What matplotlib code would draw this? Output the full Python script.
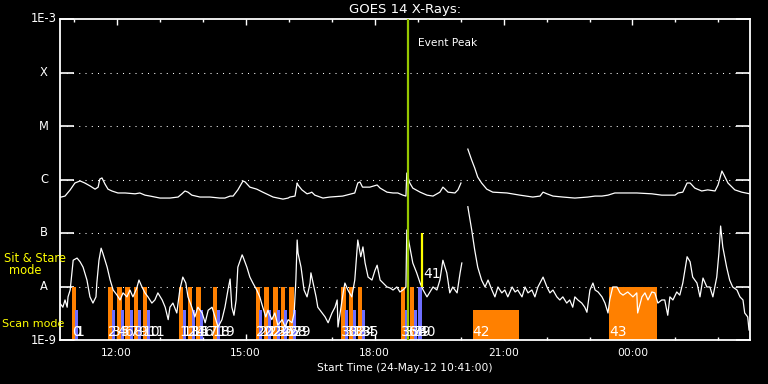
import matplotlib
matplotlib.use("Agg")
import matplotlib.pyplot as plt
from matplotlib.ticker import FixedLocator, MultipleLocator, NullLocator, NullFormatter
from matplotlib.transforms import blended_transform_factory

NAN = float("nan")

# ---- data (time in hours of 24-May-12, flux in W/m^2) ----
long_channel = [
    (10.69, 4.7e-7), (10.71, 4.7e-7), (10.80, 4.9e-7), (10.92, 6.4e-7), (11.03, 8.6e-7), (11.15, 9.4e-7),
    (11.26, 8.6e-7), (11.38, 7.6e-7), (11.50, 6.6e-7), (11.57, 7.2e-7), (11.61, 1.02e-6), (11.66, 1.07e-6),
    (11.73, 8.2e-7), (11.80, 6.6e-7), (11.89, 6.1e-7), (12.03, 5.6e-7), (12.20, 5.6e-7), (12.43, 5.4e-7),
    (12.54, 5.6e-7), (12.66, 5.1e-7), (12.78, 4.9e-7), (13.01, 4.5e-7), (13.24, 4.5e-7), (13.43, 4.7e-7),
    (13.52, 5.4e-7), (13.59, 6.1e-7), (13.66, 5.8e-7), (13.75, 5.1e-7), (13.94, 4.7e-7), (14.17, 4.7e-7),
    (14.40, 4.5e-7), (14.52, 4.5e-7), (14.64, 4.9e-7), (14.71, 4.9e-7), (14.82, 6.4e-7), (14.94, 9.4e-7),
    (14.99, 9.0e-7), (15.10, 7.2e-7), (15.26, 6.6e-7), (15.40, 5.8e-7), (15.64, 4.7e-7), (15.87, 4.3e-7),
    (15.99, 4.5e-7), (16.03, 4.7e-7), (16.15, 4.9e-7), (16.20, 8.6e-7), (16.22, 7.9e-7), (16.31, 6.4e-7),
    (16.43, 5.4e-7), (16.50, 5.6e-7), (16.54, 5.8e-7), (16.61, 5.1e-7), (16.80, 4.5e-7), (16.96, 4.7e-7),
    (17.26, 4.9e-7), (17.54, 5.6e-7), (17.61, 8.6e-7), (17.66, 9.0e-7), (17.72, 7.2e-7), (17.89, 7.2e-7),
    (18.06, 7.9e-7), (18.13, 6.9e-7), (18.29, 5.8e-7), (18.43, 5.6e-7), (18.54, 5.6e-7), (18.66, 5.1e-7),
    (18.73, 4.9e-7), (18.75, 1.32e-6), (18.82, 8.6e-7), (18.89, 6.9e-7), (19.06, 5.8e-7), (19.22, 5.1e-7),
    (19.36, 4.9e-7), (19.52, 5.8e-7), (19.59, 7.2e-7), (19.64, 6.6e-7), (19.71, 5.8e-7), (19.87, 5.6e-7),
    (19.94, 6.4e-7), (20.01, 8.6e-7), (20.08, NAN), (20.17, 3.7e-6), (20.26, 2.3e-6), (20.33, 1.64e-6),
    (20.40, 1.11e-6), (20.49, 8.6e-7), (20.61, 6.6e-7), (20.75, 5.8e-7), (21.08, 5.6e-7), (21.38, 5.1e-7),
    (21.68, 4.7e-7), (21.85, 4.9e-7), (21.92, 5.8e-7), (22.01, 5.4e-7), (22.15, 4.9e-7), (22.38, 4.7e-7),
    (22.66, 4.5e-7), (22.96, 4.7e-7), (23.13, 4.9e-7), (23.29, 4.9e-7), (23.43, 5.1e-7), (23.59, 5.6e-7),
    (23.82, 5.6e-7), (24.10, 5.6e-7), (24.45, 5.4e-7), (24.68, 5.1e-7), (24.99, 5.1e-7), (25.06, 5.6e-7),
    (25.17, 5.8e-7), (25.27, 8.6e-7), (25.34, 8.6e-7), (25.45, 6.9e-7), (25.61, 6.1e-7), (25.75, 6.4e-7),
    (25.92, 6.1e-7), (25.99, 7.9e-7), (26.08, 1.44e-6), (26.13, 1.21e-6), (26.22, 8.6e-7), (26.38, 6.4e-7),
    (26.54, 5.8e-7), (26.73, 5.4e-7),
]

short_channel = [
    (10.68, 4.9e-9), (10.75, 4.1e-9), (10.80, 5.6e-9), (10.85, 4.1e-9), (10.87, 6.4e-9), (10.92, 8.6e-9),
    (10.96, 1.8e-8), (10.99, 3.1e-8), (11.08, 3.4e-8), (11.15, 2.9e-8), (11.22, 2.3e-8), (11.31, 1.32e-8),
    (11.38, 6.4e-9), (11.45, 4.9e-9), (11.52, 6.4e-9), (11.54, 1.16e-8), (11.59, 3.1e-8), (11.64, 5.2e-8),
    (11.68, 4.2e-8), (11.78, 2.3e-8), (11.85, 1.32e-8), (11.92, 8.6e-9), (12.01, 6.9e-9), (12.08, 5.6e-9),
    (12.15, 7.6e-9), (12.24, 6.4e-9), (12.31, 8.6e-9), (12.38, 6.4e-9), (12.47, 9.4e-9), (12.52, 1.32e-8),
    (12.59, 9.8e-9), (12.66, 7.6e-9), (12.73, 6.4e-9), (12.82, 4.9e-9), (12.89, 5.6e-9), (12.96, 7.6e-9),
    (13.06, 5.6e-9), (13.13, 4.1e-9), (13.20, 2.4e-9), (13.24, 4.1e-9), (13.31, 4.9e-9), (13.40, 3.2e-9),
    (13.47, 8.6e-9), (13.54, 1.5e-8), (13.61, 1.16e-8), (13.66, 6.4e-9), (13.75, 4.1e-9), (13.82, 2.7e-9),
    (13.89, 4.1e-9), (13.99, 3.2e-9), (14.06, 2.1e-9), (14.13, 3.6e-9), (14.22, 4.1e-9), (14.29, 2.7e-9),
    (14.36, 1.75e-9), (14.45, 2.4e-9), (14.52, 4.1e-9), (14.59, 8.6e-9), (14.64, 1.38e-8), (14.68, 4.1e-9),
    (14.73, 2.9e-9), (14.78, 5.6e-9), (14.82, 2.3e-8), (14.92, 3.9e-8), (14.94, 3.6e-8), (15.03, 2.3e-8),
    (15.10, 1.5e-8), (15.17, 1.16e-8), (15.26, 8.6e-9), (15.33, 6.4e-9), (15.40, 4.1e-9), (15.47, 2.7e-9),
    (15.52, 3.6e-9), (15.61, 2.4e-9), (15.68, 3.2e-9), (15.75, 1.9e-9), (15.85, 2.4e-9), (15.92, 1.75e-9),
    (15.99, 2.4e-9), (16.08, 2.1e-9), (16.13, 3.2e-9), (16.17, 1.32e-8), (16.20, 7.4e-8), (16.22, 4.2e-8),
    (16.29, 2.3e-8), (16.36, 8.6e-9), (16.43, 6.4e-9), (16.50, 1.16e-8), (16.52, 1.8e-8), (16.57, 1.16e-8),
    (16.64, 6.4e-9), (16.68, 4.1e-9), (16.78, 3.2e-9), (16.85, 2.7e-9), (16.92, 2.1e-9), (17.01, 3.2e-9),
    (17.08, 4.1e-9), (17.13, 5.6e-9), (17.15, 1.75e-9), (17.20, 3.2e-9), (17.27, 7.6e-9), (17.31, 1.16e-8),
    (17.38, 8.6e-9), (17.47, 6.4e-9), (17.54, 1.32e-8), (17.61, 7.4e-8), (17.68, 3.6e-8), (17.73, 5.5e-8),
    (17.78, 2.75e-8), (17.85, 1.5e-8), (17.94, 1.32e-8), (18.01, 2.0e-8), (18.06, 2.5e-8), (18.13, 1.32e-8),
    (18.20, 1.16e-8), (18.29, 9.8e-9), (18.36, 9.4e-9), (18.43, 8.6e-9), (18.52, 9.8e-9), (18.59, 7.9e-9),
    (18.66, 8.6e-9), (18.73, 9.8e-9), (18.75, 1.14e-7), (18.82, 5.5e-8), (18.89, 2.75e-8), (18.98, 1.8e-8),
    (19.06, 1.16e-8), (19.13, 8.6e-9), (19.22, 6.4e-9), (19.29, 7.9e-9), (19.36, 9.8e-9), (19.45, 8.6e-9),
    (19.52, 1.32e-8), (19.59, 3.1e-8), (19.68, 1.8e-8), (19.75, 7.6e-9), (19.82, 9.8e-9), (19.92, 7.6e-9),
    (19.99, 1.8e-8), (20.03, 2.75e-8), (20.08, NAN), (20.17, 3.1e-7), (20.26, 1.14e-7), (20.33, 4.8e-8),
    (20.40, 2.3e-8), (20.49, 1.32e-8), (20.57, 9.8e-9), (20.64, 1.32e-8), (20.73, 8.6e-9), (20.80, 6.4e-9),
    (20.87, 9.8e-9), (20.96, 7.6e-9), (21.03, 8.6e-9), (21.10, 6.4e-9), (21.20, 9.8e-9), (21.27, 7.9e-9),
    (21.33, 8.6e-9), (21.43, 6.4e-9), (21.50, 9.8e-9), (21.57, 7.6e-9), (21.66, 8.6e-9), (21.73, 6.4e-9),
    (21.80, 9.8e-9), (21.92, 1.5e-8), (22.01, 9.8e-9), (22.08, 7.6e-9), (22.15, 8.6e-9), (22.24, 6.4e-9),
    (22.31, 5.6e-9), (22.38, 6.4e-9), (22.47, 4.9e-9), (22.54, 5.6e-9), (22.61, 4.1e-9), (22.66, 6.4e-9),
    (22.73, 5.6e-9), (22.82, 4.9e-9), (22.89, 4.1e-9), (22.94, 3.3e-9), (23.01, 8.6e-9), (23.08, 1.16e-8),
    (23.13, 8.6e-9), (23.20, 7.9e-9), (23.29, 6.4e-9), (23.36, 4.9e-9), (23.43, 3.2e-9), (23.47, 5.6e-9),
    (23.54, 9.8e-9), (23.64, 9.8e-9), (23.71, 7.6e-9), (23.78, 6.9e-9), (23.89, 7.9e-9), (24.01, 6.4e-9),
    (24.10, 7.6e-9), (24.12, 3.2e-9), (24.22, 6.4e-9), (24.29, 7.6e-9), (24.36, 5.6e-9), (24.45, 7.9e-9),
    (24.52, 7.6e-9), (24.59, 4.9e-9), (24.68, 5.6e-9), (24.75, 5.6e-9), (24.82, 2.9e-9), (24.87, 6.4e-9),
    (24.94, 5.6e-9), (25.03, 7.9e-9), (25.10, 6.9e-9), (25.17, 1.16e-8), (25.27, 3.6e-8), (25.34, 2.9e-8),
    (25.40, 1.5e-8), (25.50, 1.16e-8), (25.57, 6.4e-9), (25.64, 1.44e-8), (25.73, 9.8e-9), (25.80, 9.8e-9),
    (25.87, 6.4e-9), (25.96, 1.5e-8), (26.01, 4.2e-8), (26.05, 1.35e-7), (26.10, 5.5e-8), (26.19, 2.3e-8),
    (26.26, 1.32e-8), (26.33, 9.8e-9), (26.43, 8.6e-9), (26.50, 6.4e-9), (26.57, 5.6e-9), (26.61, 3.2e-9),
    (26.68, 2.7e-9), (26.71, 1.54e-9),
]

# observation events 0..43 (41 is the sit & stare marker, drawn separately)
event_ids = list(range(41)) + [42, 43]
event_start = [10.96, 11.04, 11.80, 11.89, 12.01, 12.10, 12.20, 12.30, 12.40, 12.50,
               12.61, 12.71, 13.45, 13.54, 13.66, 13.75, 13.85, 13.94, 14.24, 14.34,
               15.24, 15.32, 15.43, 15.52, 15.64, 15.72, 15.82, 15.90, 16.01, 16.10,
               17.22, 17.31, 17.40, 17.51, 17.61, 17.71, 18.61, 18.71, 18.82, 18.92,
               19.01, 20.28, 23.45]
event_end = [11.065, 11.11, 11.905, 11.96, 12.115, 12.17, 12.305, 12.37, 12.505, 12.57,
             12.715, 12.78, 13.555, 13.61, 13.765, 13.82, 13.955, 14.01, 14.345, 14.41,
             15.345, 15.39, 15.535, 15.59, 15.745, 15.79, 15.925, 15.97, 16.115, 16.17,
             17.325, 17.38, 17.505, 17.58, 17.715, 17.78, 18.715, 18.78, 18.925, 18.99,
             19.10, 21.37, 24.56]
event_top = [1e-8, 3.6e-9] * 20 + [1e-8, 3.6e-9, 1e-8]
event_kind = ["A", "B"] * 20 + ["B", "A", "A"]
event_colors = {"A": "#ff8000", "B": "#6e6eff"}

stare_id = 41
stare_time = 19.095
stare_low, stare_high = 1e-8, 1e-7
peak_time = 18.775

level_values = [1e-3, 1e-4, 1e-5, 1e-6, 1e-7, 1e-8, 1e-9]
level_labels = ["1E-3", "X", "M", "C", "B", "A", "1E-9"]
grid_levels = [1e-4, 1e-5, 1e-6, 1e-7, 1e-8]
hour_ticks = [12, 15, 18, 21, 24]
hour_labels = ["12:00", "15:00", "18:00", "21:00", "00:00"]
t_start, t_end = 10.6833, 26.7333

# ---- figure ----
W, H = 768, 384
fig = plt.figure(figsize=(7.68, 3.84), dpi=100, facecolor="black")
ax = fig.add_axes([60 / W, 44 / H, 690 / W, 321 / H], facecolor="black")
ax.set_yscale("log")
ax.set_xlim(t_start, t_end)
ax.set_ylim(1e-9, 1e-3)

for s in ax.spines.values():
    s.set_color("white")
    s.set_linewidth(1.3)

# dotted level lines
for lv in grid_levels:
    ax.axhline(lv, color="white", lw=0.75, linestyle=(0, (1, 5)), zorder=1)

# bars
for i, s, e, top, k in zip(event_ids, event_start, event_end, event_top, event_kind):
    ax.bar(s, top - 1e-9, width=e - s, bottom=1e-9, align="edge",
           color=event_colors[k], linewidth=0, zorder=2)

# curves
ax.plot([p[0] for p in long_channel], [p[1] for p in long_channel], color="white", lw=0.9, zorder=4)
ax.plot([p[0] for p in short_channel], [p[1] for p in short_channel], color="white", lw=0.9, zorder=4)

# event peak and sit&stare marker
ax.axvline(peak_time, color="#96c800", lw=1.6, zorder=5)
ax.vlines(stare_time, stare_low, stare_high, color="yellow", lw=1.6, zorder=5)
ax.text(peak_time + 0.23, 10 ** (-3 - 24 / 53.5), "Event Peak", color="white",
        fontsize=7.7, va="center", ha="left", zorder=6)

# event number labels
trans = blended_transform_factory(ax.transData, ax.transAxes)
for i, s in zip(event_ids, event_start):
    ax.text(s, 0.012, str(i), transform=trans, color="white", fontsize=10,
            ha="left", va="baseline", zorder=6)
ax.text(stare_time + 0.05, 1.7e-8, str(stare_id), color="white", fontsize=10,
        ha="left", va="center", zorder=6)

# ticks
ax.yaxis.set_major_locator(FixedLocator(level_values))
ax.yaxis.set_minor_locator(NullLocator())
ax.yaxis.set_major_formatter(NullFormatter())
ax.yaxis.set_minor_formatter(NullFormatter())
ax.tick_params(axis="y", which="major", direction="in", length=10, width=1.2,
               color="white", left=True, right=True)
ax.xaxis.set_major_locator(FixedLocator(hour_ticks))
ax.xaxis.set_minor_locator(MultipleLocator(1))
ax.set_xticklabels(hour_labels)
ax.tick_params(axis="x", which="major", direction="in", length=4.5, width=1.0,
               color="white", top=True, bottom=True, labelcolor="white",
               labelsize=7.7, pad=6)
ax.tick_params(axis="x", which="minor", direction="in", length=2.3, width=1.0,
               color="white", top=True, bottom=True)

ylab_trans = blended_transform_factory(ax.transAxes, ax.transData)
for v, lab in zip(level_values, level_labels):
    ax.text(-16 / 690, v, lab, transform=ylab_trans, color="white", fontsize=8.3,
            ha="center", va="center", clip_on=False)

# side annotations
fig.text(35 / W, 1 - 258 / H, "Sit & Stare", color="yellow", fontsize=8.3, ha="center", va="center")
fig.text(25 / W, 1 - 271 / H, "mode", color="yellow", fontsize=8.3, ha="center", va="center")
fig.text(2 / W, 1 - 324 / H, "Scan mode", color="yellow", fontsize=8.0, ha="left", va="center")

fig.text(405 / W, 1 - 9 / H, "GOES 14 X-Rays:", color="white", fontsize=9.5, ha="center", va="center")
fig.text(405 / W, 1 - 368 / H, "Start Time (24-May-12 10:41:00)", color="white",
         fontsize=7.7, ha="center", va="center")

fig.savefig("out.png", dpi=100, facecolor="black")
